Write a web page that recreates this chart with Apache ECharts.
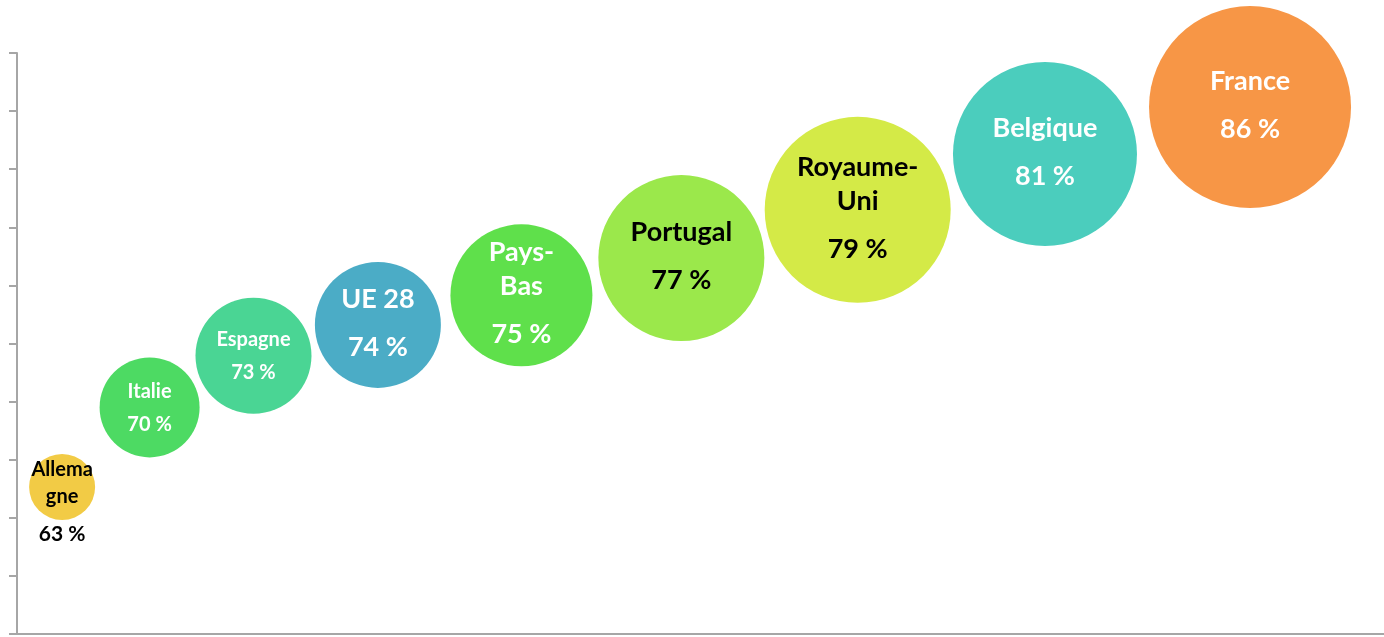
<!DOCTYPE html>
<html>
<head>
    <meta charset="utf-8" />
    <title>Bulles</title>
    <script src="https://cdn.jsdelivr.net/npm/echarts@6/dist/echarts.min.js"></script>
    <style>
        html, body { margin: 0; padding: 0; background: #fff; }
        #main { width: 1384px; height: 637px; }
    </style>
</head>
<body>
    <div id="main"></div>
    <script type="text/javascript">
        // donnees
        var pays = ['Allema\ngne', 'Italie', 'Espagne', 'UE 28', 'Pays-\nBas', 'Portugal', 'Royaume-\nUni', 'Belgique', 'France'];
        var taux = [63, 70, 73, 74, 75, 77, 79, 81, 86];
        var posX = [3.3, 9.7, 17.3, 26.4, 36.9, 48.6, 61.5, 75.2, 90.2];
        var posY = [25.3, 39.0, 47.9, 53.2, 58.3, 64.7, 73.0, 82.6, 90.7];
        var taille = [33, 50, 58, 63, 71, 83, 93, 92, 101];
        var couleurs = ['#F2CB45', '#4DDA63', '#4AD594', '#4BACC6', '#5FE04B', '#9BE84B', '#D4EA47', '#4BCDBD', '#F79646'];
        var texteNoir = ['Allema\ngne', 'Portugal', 'Royaume-\nUni'];
        var petits = ['Allema\ngne', 'Italie', 'Espagne'];

        var myChart = echarts.init(document.getElementById('main'));

        var data = [];
        for (var i = 0; i < pays.length; i++) {
            var noir = texteNoir.indexOf(pays[i]) > -1;
            var petit = petits.indexOf(pays[i]) > -1;
            var col = noir ? '#000' : '#fff';
            var fs = petit ? 20 : 27;
            var lhName = petit ? (i == 0 ? 27 : 24) : 34;
            var lhVal = petit ? (i == 0 ? 47 : 42) : 62;
            data.push({
                name: pays[i],
                value: [posX[i], posY[i], taille[i], taux[i]],
                itemStyle: { color: couleurs[i], opacity: 1 },
                label: {
                    offset: [0, i == 0 ? 20 : 5],
                    rich: {
                        n: { color: col, fontSize: fs, fontWeight: 'bold', fontFamily: 'Lato', lineHeight: lhName, align: 'center' },
                        v: { color: col, fontSize: i == 0 ? 21 : fs, fontWeight: 'bold', fontFamily: 'Lato', lineHeight: lhVal, align: 'center' }
                    }
                }
            });
        }

        myChart.setOption({
            animation: false,
            grid: { left: 17, right: 0, top: 53, bottom: 3 },
            xAxis: {
                type: 'value',
                min: 0,
                max: 100,
                axisLine: { show: true, lineStyle: { color: '#A6A6A6', width: 2 } },
                axisTick: { show: false },
                axisLabel: { show: false },
                splitLine: { show: false }
            },
            yAxis: {
                type: 'value',
                min: 0,
                max: 100,
                interval: 10,
                axisLine: { show: true, lineStyle: { color: '#A6A6A6', width: 2 } },
                axisTick: { show: true, length: 8, lineStyle: { color: '#A6A6A6', width: 2 } },
                axisLabel: { show: false },
                splitLine: { show: false }
            },
            series: [{
                type: 'scatter',
                clip: false,
                data: data,
                itemStyle: { opacity: 1 },
                symbolSize: function (val) { return val[2] * 2; },
                label: {
                    show: true,
                    position: 'inside',
                    formatter: function (p) {
                        var lignes = p.name.split('\n');
                        var s = '';
                        for (var k = 0; k < lignes.length; k++) {
                            s += '{n|' + lignes[k] + '}\n';
                        }
                        return s + '{v|' + p.value[3] + ' %}';
                    }
                }
            }]
        });
    </script>
</body>
</html>
